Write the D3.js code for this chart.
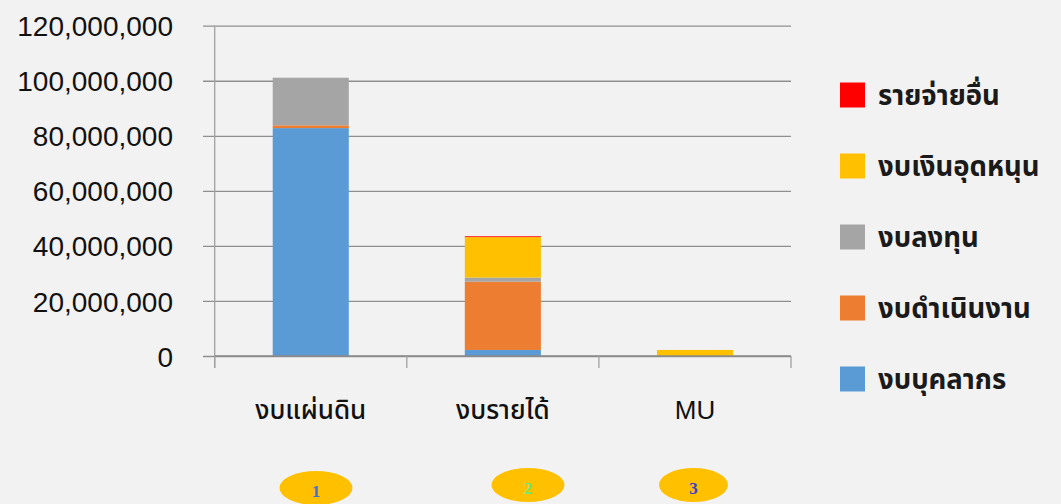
<!DOCTYPE html>
<html>
<head>
<meta charset="utf-8">
<script src="https://cdn.jsdelivr.net/npm/d3@7"></script>
<style>
  html, body { margin: 0; padding: 0; background: #f2f2f2; }
  svg { display: block; }
</style>
</head>
<body>
<svg id="chart" width="1061" height="504"></svg>
<script>
const categories = ["งบแผ่นดิน", "งบรายได้", "MU"];
const seriesNames = ["งบบุคลากร", "งบดำเนินงาน", "งบลงทุน", "งบเงินอุดหนุน", "รายจ่ายอื่น"];
const personnel = [82800000, 2200000, 0];
const operating = [1000000, 24800000, 0];
const investment = [17300000, 1500000, 0];
const subsidy = [0, 14700000, 2200000];
const other = [0, 300000, 0];
const yTicks = [0, 20000000, 40000000, 60000000, 80000000, 100000000, 120000000];
const badges = ["1", "2", "3"];

const seriesValues = [personnel, operating, investment, subsidy, other];
const colors = ["#5b9bd5", "#ed7d31", "#a5a5a5", "#ffc000", "#ff0000"];
const badgeColors = ["#4472c4", "#66ee77", "#3c3cd6"];

const svg = d3.select("#chart");
const plotLeft = 214.7, plotRight = 791, plotTop = 25.7, plotBottom = 356;
const textFont = "'Liberation Sans', Arial, 'Noto Sans Thai', 'Noto Sans', sans-serif";

const x = d3.scaleBand().domain(categories).range([plotLeft, plotRight])
  .paddingInner(0.604).paddingOuter(0.302);
const y = d3.scaleLinear().domain([0, 120000000]).range([plotBottom, plotTop]);

const rows = categories.map((c, i) => {
  const row = { category: c };
  seriesNames.forEach((s, k) => { row[s] = seriesValues[k][i]; });
  return row;
});
const stacked = d3.stack().keys(seriesNames)(rows);

// gridlines + y labels
const yAxis = svg.append("g")
  .attr("transform", `translate(${plotRight},0)`)
  .call(d3.axisLeft(y).tickValues(yTicks).tickSize(plotRight - plotLeft + 11.7)
    .tickPadding(30).tickFormat(d3.format(",")));
yAxis.select(".domain").remove();
yAxis.selectAll(".tick line").attr("stroke", "#8f8f8f").attr("stroke-width", 1.3);
yAxis.selectAll(".tick text")
  .attr("fill", "#111")
  .style("font-family", textFont)
  .style("font-size", "28px")
  .attr("dy", "0.36em");

// vertical y axis line
svg.append("line")
  .attr("x1", plotLeft).attr("x2", plotLeft)
  .attr("y1", plotTop).attr("y2", plotBottom + 12)
  .attr("stroke", "#a0a0a0").attr("stroke-width", 1.3);

// bars
svg.append("g").selectAll("g")
  .data(stacked)
  .join("g")
  .attr("fill", (d, i) => colors[i])
  .selectAll("rect")
  .data(d => d)
  .join("rect")
  .attr("x", d => x(d.data.category))
  .attr("width", x.bandwidth())
  .attr("y", d => y(d[1]))
  .attr("height", d => Math.max(0, y(d[0]) - y(d[1])));

// x axis
const step = x.step();
const boundaries = d3.range(categories.length + 1).map(i => plotLeft + i * step);
svg.append("line")
  .attr("x1", plotLeft).attr("x2", plotRight)
  .attr("y1", plotBottom).attr("y2", plotBottom)
  .attr("stroke", "#8a8a8a").attr("stroke-width", 1.5);
svg.append("g").selectAll("line")
  .data(boundaries)
  .join("line")
  .attr("x1", d => d).attr("x2", d => d)
  .attr("y1", plotBottom).attr("y2", plotBottom + 12)
  .attr("stroke", "#a0a0a0").attr("stroke-width", 1.3);
svg.append("g").selectAll("text")
  .data(categories)
  .join("text")
  .attr("x", d => x(d) + x.bandwidth() / 2)
  .attr("y", 419)
  .attr("text-anchor", "middle")
  .attr("fill", "#111")
  .style("font-family", textFont)
  .style("font-size", "26px")
  .style("font-weight", "500")
  .text(d => d);

// legend (reverse order)
const legendItems = seriesNames.map((s, i) => ({ name: s, color: colors[i] })).reverse();
const legend = svg.append("g").selectAll("g")
  .data(legendItems)
  .join("g")
  .attr("transform", (d, i) => `translate(840, ${95 + i * 71})`);
legend.append("rect")
  .attr("x", 0).attr("y", -12.5)
  .attr("width", 25).attr("height", 25)
  .attr("fill", d => d.color);
legend.append("text")
  .attr("x", 38).attr("y", 0)
  .attr("dy", "0.36em")
  .attr("fill", "#1a1a1a")
  .style("font-family", textFont)
  .style("font-size", "27.5px")
  .style("font-weight", "bold")
  .text(d => d.name);

// numbered badges under categories
const badgeX = [316, 528, 693.5];
const badgeY = [488, 485, 485];
const badgeG = svg.append("g").selectAll("g")
  .data(badges)
  .join("g")
  .attr("transform", (d, i) => `translate(${badgeX[i]}, ${badgeY[i]})`);
badgeG.append("ellipse")
  .attr("rx", (d, i) => i === 2 ? 34.5 : 36.5)
  .attr("ry", 17)
  .attr("fill", "#ffc000");
badgeG.append("text")
  .attr("text-anchor", "middle")
  .attr("y", 9)
  .attr("fill", (d, i) => badgeColors[i])
  .style("font-family", "'Liberation Serif', 'DejaVu Serif', serif")
  .style("font-size", "17px")
  .style("font-weight", "bold")
  .text(d => d);
</script>
</body>
</html>
